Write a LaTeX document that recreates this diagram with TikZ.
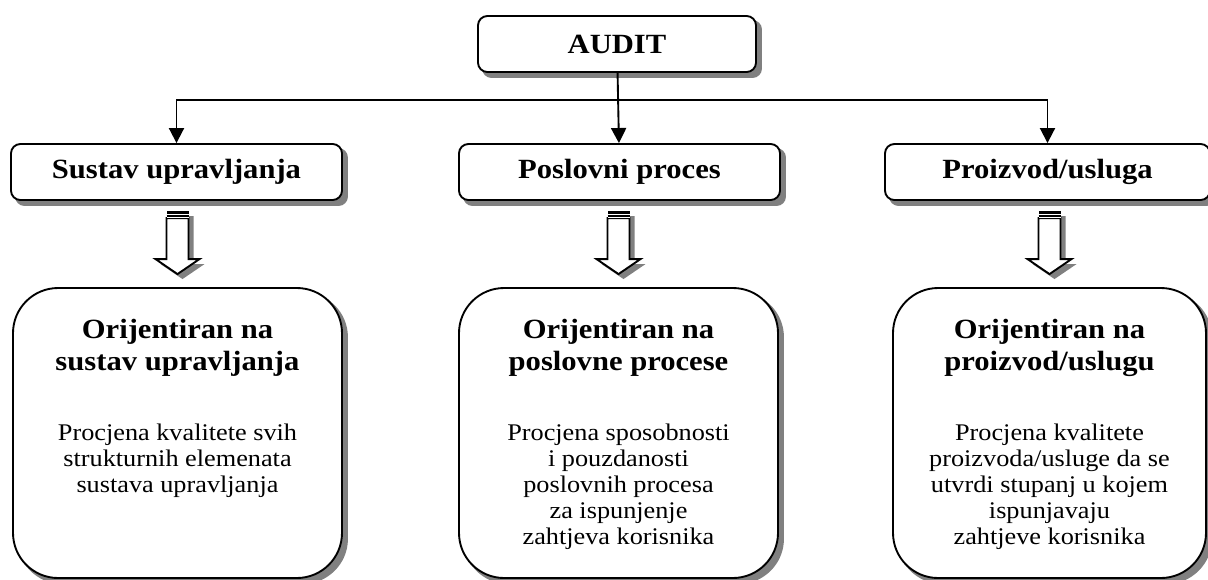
\documentclass[tikz,border=0pt]{standalone}
\usepackage{fontspec}
\setmainfont[FakeStretch=1.1]{Liberation Serif}
\usetikzlibrary{arrows.meta,positioning,calc}

\pgfdeclarelayer{background}
\pgfsetlayers{background,main}

\newdimen\pxu \pxu=0.532pt
\newcommand\boxtext[2]{\parbox[c][290\pxu][t]{290\pxu}{\centering
  \vspace*{16.8pt}{\fontsize{14.8}{17}\selectfont\bfseries #1\par}
  \vspace{23.4pt}{\fontsize{12.7}{13.8}\selectfont #2\par}}}

\tikzset{
  topbox/.style={draw, line width=1pt, rounded corners=5pt, fill=white,
    minimum height=56\pxu, inner sep=0pt,
    font=\fontsize{14.8}{17}\selectfont\bfseries},
  bigbox/.style={draw, line width=1pt, rounded corners=24pt, fill=white,
    inner sep=0pt, minimum height=290\pxu},
  shade/.style={fill=black!50, draw=none},
  conn/.style={line width=1pt, -{Triangle[width=8pt,length=8pt]}}
}

\begin{document}
\begin{tikzpicture}[x=0.532pt, y=-0.532pt]
    \clip (0,0) rectangle (1208,579);

    % top of the tree
    \node [topbox, minimum width=278\pxu] (audit) at (617,44) {AUDIT};

    % three kinds of audit
    \node [topbox, minimum width=331\pxu] (sustav) at (176.5,172) {Sustav upravljanja};
    \node [topbox, minimum width=321\pxu] (poslovni) at (619.5,172) {Poslovni proces};
    \node [topbox, minimum width=325\pxu] (proizvod) at (1047.5,172) {Proizvod/usluga};

    \coordinate (split) at (617,100);
    \draw [conn] (audit) -- (poslovni);
    \draw [conn] (split) -| (sustav.north);
    \draw [conn] (split) -| (proizvod.north);

    % descriptions
    \node [bigbox, minimum width=329\pxu] (orijSU) at (177.5,433)
        {\boxtext{Orijentiran na\\ sustav upravljanja}
                 {Procjena kvalitete svih\\ strukturnih elemenata\\ sustava upravljanja}};
    \node [bigbox, minimum width=319\pxu] (orijPP) at (618.5,433)
        {\boxtext{Orijentiran na\\ poslovne procese}
                 {Procjena sposobnosti\\ i pouzdanosti\\ poslovnih procesa\\ za ispunjenje\\ zahtjeva korisnika}};
    \node [bigbox, minimum width=313\pxu] (orijPU) at (1049.5,433)
        {\boxtext{Orijentiran na\\ proizvod/uslugu}
                 {Procjena kvalitete\\ proizvoda/usluge da se\\ utvrdi stupanj u kojem\\ ispunjavaju\\ zahtjeve korisnika}};

    % shadows behind the boxes
    \begin{pgfonlayer}{background}
        \foreach \b in {audit, sustav, poslovni, proizvod}
            \fill [shade, rounded corners=5pt] ([shift={(5,5)}]\b.north west) rectangle ([shift={(5,5)}]\b.south east);
        \foreach \b in {orijSU, orijPP, orijPU}
            \fill [shade, rounded corners=24pt] ([shift={(5,5)}]\b.north west) rectangle ([shift={(5,5)}]\b.south east);
    \end{pgfonlayer}

    % hollow striped arrows
    \foreach \down in {orijSU, orijPP, orijPU} {
        \begin{scope}[shift={(\down.north)}]
            \fill [shade] (-6,-71) rectangle (16,-64)
                (-6,-64) -- (16,-64) -- (16,-23) -- (27,-23) -- (5,-8) -- (-17,-23) -- (-6,-23) -- cycle;
            \fill [white] (-11,-69) -- (11,-69) -- (11,-28) -- (22,-28) -- (0,-13) -- (-22,-28) -- (-11,-28) -- cycle;
            \draw [line width=1pt, line join=miter] (-11,-69) -- (11,-69) -- (11,-28) -- (22,-28) -- (0,-13) -- (-22,-28) -- (-11,-28) -- cycle;
            \fill [white] (-11,-76) rectangle (11,-69);
            \fill (-11,-76) rectangle (11,-73);
            \draw [line width=0.8pt] (-11,-71) -- (11,-71);
        \end{scope}
    }

\end{tikzpicture}
\end{document}
